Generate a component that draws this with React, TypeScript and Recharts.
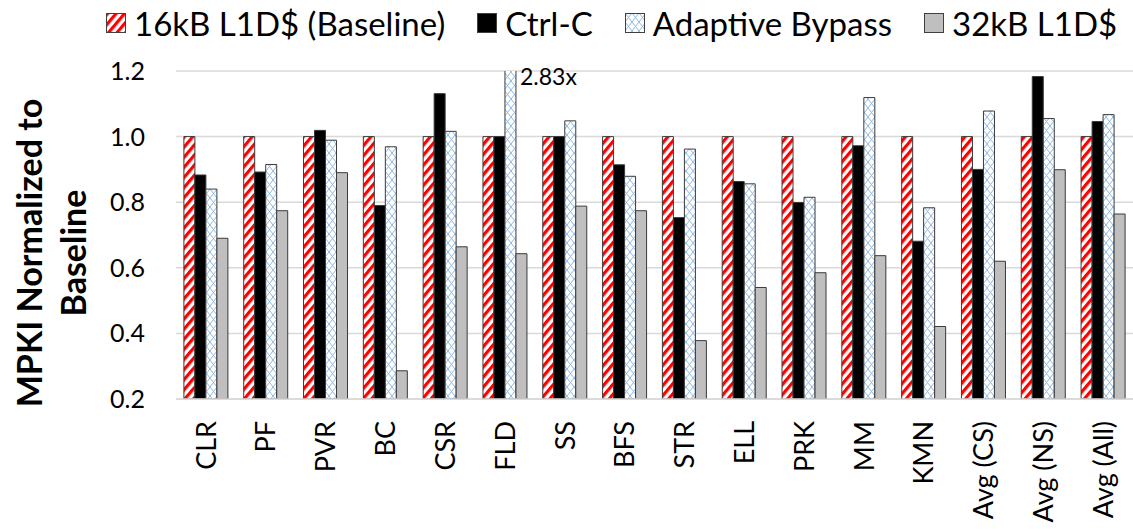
import React from "react";
import { BarChart, Bar, XAxis, YAxis, CartesianGrid, LabelList } from "recharts";

const categories = ["CLR", "PF", "PVR", "BC", "CSR", "FLD", "SS", "BFS", "STR", "ELL", "PRK", "MM", "KMN", "Avg (CS)", "Avg (NS)", "Avg (All)"];
const baseline16k = [1, 1, 1, 1, 1, 1, 1, 1, 1, 1, 1, 1, 1, 1, 1, 1];
const ctrlC = [0.883, 0.892, 1.019, 0.79, 1.131, 1.0, 1.0, 0.914, 0.753, 0.863, 0.799, 0.972, 0.681, 0.9, 1.183, 1.046];
const adaptiveBypass = [0.84, 0.915, 0.989, 0.969, 1.016, 2.83, 1.048, 0.879, 0.962, 0.856, 0.815, 1.119, 0.783, 1.078, 1.055, 1.067];
const l1d32k = [0.69, 0.774, 0.89, 0.286, 0.664, 0.643, 0.788, 0.774, 0.378, 0.54, 0.585, 0.637, 0.421, 0.62, 0.899, 0.764];
const yTicks = [0.2, 0.4, 0.6, 0.8, 1.0, 1.2];
const seriesNames = ["16kB L1D$ (Baseline)", "Ctrl-C", "Adaptive Bypass", "32kB L1D$"];
const yLabelLines = ["MPKI Normalized to", "Baseline"];

const Y_MIN = 0.2;
const Y_MAX = 1.2;
const TOP = 71;
const FONT = "Lato, 'Open Sans', sans-serif";

const data = categories.map((c, i) => ({
  name: c,
  base: baseline16k[i],
  ctrl: ctrlC[i],
  adapt: adaptiveBypass[i],
  big: l1d32k[i],
}));

const seriesFills = ["url(#redStripe)", "#000000", "url(#blueLattice)", "#BFBFBF"];
const keys = ["base", "ctrl", "adapt", "big"];

function PatternDefs({ suffix = "" }: { suffix?: string }) {
  return (
    <defs>
      <pattern id={"redStripe" + suffix} width="6.5" height="6.5" patternUnits="userSpaceOnUse" patternTransform="rotate(40)">
        <rect x="0" y="0" width="6.5" height="6.5" fill="#ffffff" />
        <rect x="0" y="0" width="3.2" height="6.5" fill="#FF0000" />
      </pattern>
      <pattern id={"blueLattice" + suffix} width="7" height="9" patternUnits="userSpaceOnUse">
        <rect x="0" y="0" width="7" height="9" fill="#ffffff" />
        <path d="M0,0 L7,9 M7,0 L0,9" stroke="#8FB8E3" strokeWidth="1" fill="none" />
      </pattern>
    </defs>
  );
}

const XTick = (props: any) => {
  const { x, y, payload } = props;
  return (
    <text
      x={x}
      y={y}
      transform={`rotate(-90, ${x}, ${y})`}
      textAnchor="end"
      dy="0.36em"
      fontFamily={FONT}
      fontSize={27}
      fill="#000"
    >
      {payload.value}
    </text>
  );
};

const YTick = (props: any) => {
  const { x, y, payload } = props;
  return (
    <text x={x} y={y} textAnchor="end" dy="0.36em" fontFamily={FONT} fontSize={25} fill="#000">
      {Number(payload.value).toFixed(1)}
    </text>
  );
};

const YLabel = (props: any) => {
  const vb = props.viewBox || { x: 0, y: TOP, width: 176, height: 328 };
  const cy = vb.y + vb.height / 2 + 18;
  const x1 = vb.x + 42;
  const x2 = vb.x + 86;
  return (
    <g>
      <text x={x1} y={cy} transform={`rotate(-90, ${x1}, ${cy})`} textAnchor="middle" fontFamily={FONT} fontWeight="bold" fontSize={34} fill="#000">
        {yLabelLines[0]}
      </text>
      <text x={x2} y={cy} transform={`rotate(-90, ${x2}, ${cy})`} textAnchor="middle" fontFamily={FONT} fontWeight="bold" fontSize={34} fill="#000">
        {yLabelLines[1]}
      </text>
    </g>
  );
};

const OverflowLabel = (props: any) => {
  const { x, y, width, value } = props;
  if (value <= Y_MAX) return null;
  const ly = Math.max(y, TOP);
  return (
    <text x={x + width + 4} y={ly + 6} dy="0.36em" fontFamily={FONT} fontSize={23} fill="#000">
      {`${value}x`}
    </text>
  );
};

function Swatch({ fill, idx }: { fill: string; idx: number }) {
  const f = fill.startsWith("url") ? fill.replace(")", "L)") : fill;
  return (
    <svg width={20} height={20} style={{ display: "block", marginRight: 8 }}>
      <PatternDefs suffix="L" />
      <rect x={0.5} y={0.5} width={19} height={19} fill={f} stroke="#404040" strokeWidth={1} />
    </svg>
  );
}

export default function App() {
  return (
    <div style={{ position: "absolute", left: 0, top: 0, width: 1133, height: 529, background: "#fff" }}>
      <div
        style={{
          position: "absolute",
          left: 106,
          top: 0,
          height: 46,
          display: "flex",
          alignItems: "center",
          fontFamily: FONT,
          fontSize: 33,
          color: "#000",
          whiteSpace: "nowrap",
        }}
      >
        {seriesNames.map((n, i) => (
          <div key={n} style={{ display: "flex", alignItems: "center", marginRight: 32 }}>
            <Swatch fill={seriesFills[i]} idx={i} />
            <span>{n}</span>
          </div>
        ))}
      </div>
      <BarChart
        width={1133}
        height={529}
        data={data}
        margin={{ top: TOP, right: 0, bottom: 0, left: 0 }}
        barCategoryGap="13.2%"
        barGap={0}
      >
        <PatternDefs />
        <CartesianGrid vertical={false} stroke="#D9D9D9" strokeWidth={1.5} />
        <XAxis
          dataKey="name"
          interval={0}
          height={130}
          tickLine={false}
          tickSize={0}
          tickMargin={22}
          axisLine={{ stroke: "#D9D9D9", strokeWidth: 1.5 }}
          tick={<XTick />}
        />
        <YAxis
          width={176}
          domain={[Y_MIN, Y_MAX]}
          ticks={yTicks}
          allowDataOverflow
          axisLine={false}
          tickLine={false}
          tickSize={0}
          tickMargin={31}
          tick={<YTick />}
          label={<YLabel />}
        />
        {keys.map((k, i) => (
          <Bar
            key={k}
            dataKey={k}
            name={seriesNames[i]}
            fill={seriesFills[i]}
            stroke="#3A3A3A"
            strokeWidth={1}
            isAnimationActive={false}
          >
            {k === "adapt" ? <LabelList dataKey="adapt" content={<OverflowLabel />} /> : null}
          </Bar>
        ))}
      </BarChart>
    </div>
  );
}
